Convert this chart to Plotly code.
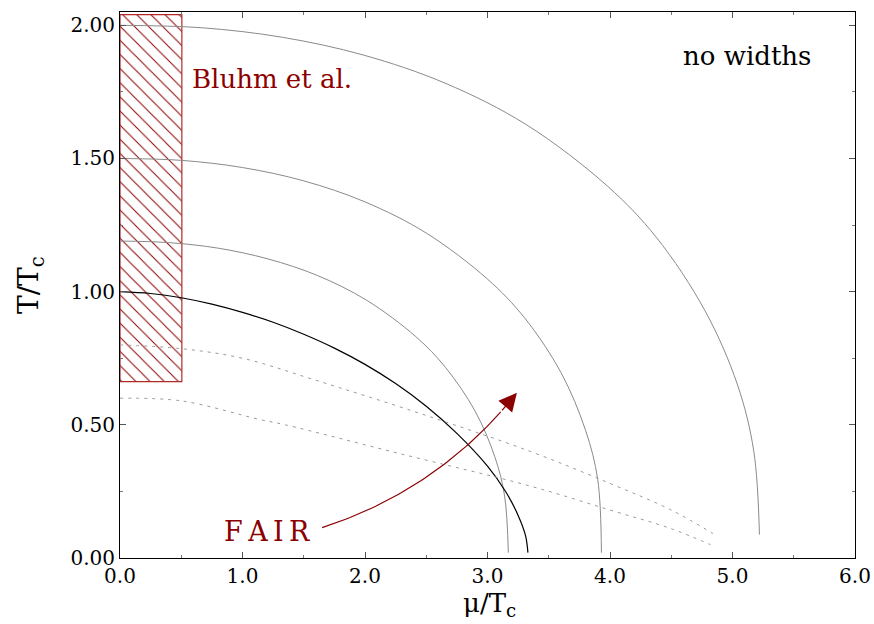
import numpy as np
import plotly.graph_objects as go

# --- curves in the (mu/Tc, T/Tc) plane ---------------------------------
arc_200_mu = [0.0, 0.663, 1.327, 1.99, 2.653, 3.317, 3.98, 4.378, 4.776, 5.041, 5.174, 5.22]
arc_200_T = [2.0, 1.991, 1.955, 1.888, 1.783, 1.627, 1.396, 1.204, 0.928, 0.650, 0.400, 0.088]

arc_150_mu = [0.0, 0.5, 1.0, 1.5, 2.0, 2.5, 3.0, 3.3, 3.6, 3.8, 3.9, 3.93]
arc_150_T = [1.5, 1.493, 1.466, 1.416, 1.337, 1.220, 1.047, 0.903, 0.696, 0.480, 0.294, 0.02]

arc_119_mu = [0.0, 0.4025, 0.805, 1.2075, 1.61, 2.0125, 2.415, 2.6565, 2.898, 3.059, 3.1395, 3.17]
arc_119_T = [1.19, 1.184, 1.163, 1.123, 1.061, 0.968, 0.831, 0.716, 0.552, 0.381, 0.233, 0.02]

arc_100_mu = [0.0, 0.25, 0.5, 0.75, 1.0, 1.25, 1.5, 1.75, 2.0, 2.25, 2.5, 2.75, 3.0, 3.15, 3.25, 3.31, 3.33]
arc_100_T = [1.0, 0.993, 0.977, 0.953, 0.922, 0.885, 0.840, 0.788, 0.727, 0.655, 0.570, 0.468,
             0.345, 0.248, 0.160, 0.085, 0.02]

dash_upper_mu = [0.0, 0.5, 1.0, 1.58, 2.5, 3.35, 4.0, 4.5, 4.84]
dash_upper_T = [0.80, 0.786, 0.75, 0.67, 0.535, 0.40, 0.28, 0.18, 0.092]

dash_lower_mu = [0.0, 0.5, 1.14, 1.35, 2.3, 3.35, 4.0, 4.5, 4.82]
dash_lower_T = [0.60, 0.59, 0.52, 0.50, 0.39, 0.27, 0.18, 0.11, 0.05]

# hatched region (Bluhm et al.)
box_mu = [0.0, 0.505]
box_T = [0.662, 2.04]

# FAIR arrow: start, control point, tip
arrow_mu = [1.65, 2.61, 3.24]
arrow_T = [0.114, 0.257, 0.62]

x_ticks = [0, 1, 2, 3, 4, 5, 6]
x_labels = ["0.0", "1.0", "2.0", "3.0", "4.0", "5.0", "6.0"]
y_ticks = [0.0, 0.5, 1.0, 1.5, 2.0]
y_labels = ["0.00", "0.50", "1.00", "1.50", "2.00"]

SERIF = "DejaVu Serif"
DARKRED = "#8b0000"
GRAY = "#8a8a8a"

fig = go.Figure()

# hatched box
fig.add_trace(go.Scatter(
    x=[box_mu[0], box_mu[1], box_mu[1], box_mu[0], box_mu[0]],
    y=[box_T[0], box_T[0], box_T[1], box_T[1], box_T[0]],
    mode="lines", fill="toself", fillcolor="rgba(0,0,0,0)",
    fillpattern=dict(shape="\\", fgcolor=DARKRED, fgopacity=1, bgcolor="rgba(0,0,0,0)",
                     size=10, solidity=0.1),
    line=dict(color="#b02a2a", width=1.2), hoverinfo="skip", showlegend=False))

for mu, T in [(arc_200_mu, arc_200_T), (arc_150_mu, arc_150_T), (arc_119_mu, arc_119_T)]:
    fig.add_trace(go.Scatter(x=mu, y=T, mode="lines", line=dict(color=GRAY, width=1, shape="spline"),
                             showlegend=False))

fig.add_trace(go.Scatter(x=arc_100_mu, y=arc_100_T, mode="lines",
                         line=dict(color="black", width=1.2, shape="spline"), showlegend=False))

for mu, T in [(dash_upper_mu, dash_upper_T), (dash_lower_mu, dash_lower_T)]:
    fig.add_trace(go.Scatter(x=mu, y=T, mode="lines",
                             line=dict(color="#9a9a9a", width=1, dash="3px,5px", shape="spline"),
                             showlegend=False))

# curved arrow body as a quadratic Bezier
t = np.linspace(0, 1, 60)
p0 = np.array([arrow_mu[0], arrow_T[0]])
p1 = np.array([arrow_mu[1], arrow_T[1]])
p2 = np.array([arrow_mu[2], arrow_T[2]])
bez = ((1 - t) ** 2)[:, None] * p0 + (2 * (1 - t) * t)[:, None] * p1 + (t ** 2)[:, None] * p2
fig.add_trace(go.Scatter(x=bez[:-6, 0], y=bez[:-6, 1], mode="lines",
                         line=dict(color=DARKRED, width=1.2), showlegend=False))
fig.add_annotation(x=p2[0], y=p2[1], ax=bez[-7, 0], ay=bez[-7, 1], xref="x", yref="y",
                   axref="x", ayref="y", showarrow=True, arrowhead=2, arrowsize=3,
                   arrowwidth=1.2, arrowcolor=DARKRED, text="")

fig.add_annotation(x=0.57, y=1.80, xref="x", yref="y", text="Bluhm et al.", showarrow=False,
                   xanchor="left", yanchor="middle", font=dict(family=SERIF, size=26, color=DARKRED))
fig.add_annotation(x=5.12, y=1.886, xref="x", yref="y", text="no widths", showarrow=False,
                   xanchor="center", yanchor="middle", font=dict(family=SERIF, size=26, color="black"))
fig.add_annotation(x=1.20, y=0.10, xref="x", yref="y", text="F\u2009A\u2009I\u2009R", showarrow=False,
                   xanchor="center", yanchor="middle", font=dict(family=SERIF, size=27, color=DARKRED))

# axis titles
fig.add_annotation(x=-0.1224, y=0.5, xref="paper", yref="paper", text="T/T<sub>c</sub>",
                   textangle=-90, showarrow=False, xanchor="center", yanchor="middle",
                   font=dict(family=SERIF, size=28, color="black"))
fig.add_annotation(x=0.503, y=-0.086, xref="paper", yref="paper", text="\u03bc/T<sub>c</sub>",
                   showarrow=False, xanchor="center", yanchor="middle",
                   font=dict(family=SERIF, size=26, color="black"))

axis_common = dict(showline=True, linecolor="black", linewidth=1, mirror="ticks",
                   ticks="inside", ticklen=6, tickcolor="#555", showgrid=False, zeroline=False,
                   automargin=False, tickfont=dict(family=SERIF, size=20, color="black"))
fig.update_xaxes(range=[0, 6], tickvals=x_ticks, ticktext=x_labels,
                 minor=dict(ticks="inside", ticklen=3, dtick=0.5, tick0=0, tickcolor="#777"),
                 **axis_common)
fig.update_yaxes(range=[0, 2.05], tickvals=y_ticks, ticktext=y_labels,
                 minor=dict(ticks="inside", ticklen=3, dtick=0.25, tick0=0, tickcolor="#777"),
                 **axis_common)

fig.update_layout(width=874, height=624, margin=dict(l=120, r=19, t=12, b=66),
                  paper_bgcolor="white", plot_bgcolor="white", showlegend=False)

fig.write_html("out.html")
